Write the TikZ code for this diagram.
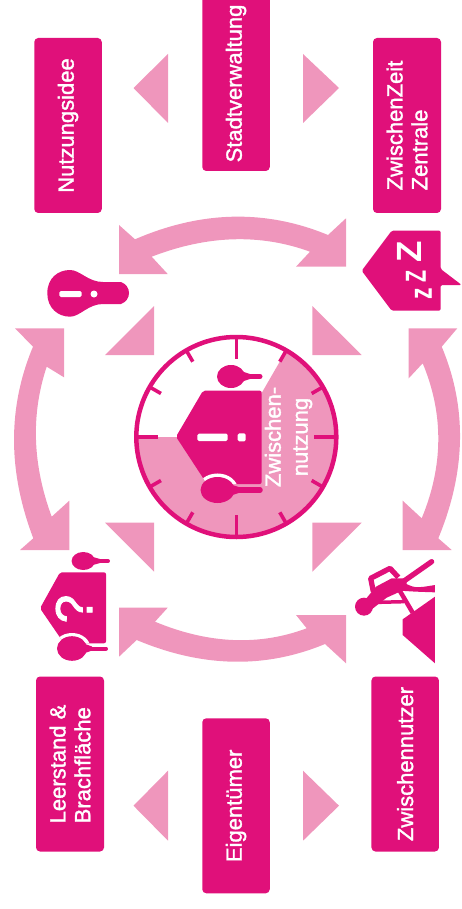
\documentclass[tikz,border=0pt]{standalone}
\usepackage{fontspec}
\setmainfont{Liberation Sans}
\newfontfamily\labfont[FakeBold=1.5]{Liberation Sans}
\definecolor{dark}{HTML}{E0107A}
\definecolor{lite}{HTML}{EF96BC}
\tikzset{
  boxn/.style={fill=dark,rounded corners=4pt,rotate=90,minimum width=175pt,minimum height=67.5pt,inner sep=0pt,text=white,align=left,font=\labfont\fontsize{22}{24.8}\selectfont},
  softfill/.style={fill=lite,draw=none},
  darkfill/.style={fill=dark,draw=none},
  whitefill/.style={fill=white,draw=none},
  iconletter/.style={text=white,rotate=90,inner sep=0pt}
}
\newcommand{\spoonhead}[6]{%
  \fill[darkfill] (#1,#2) ellipse [x radius=#3pt,y radius=#4pt];
  \fill[darkfill] ({#1},{#2-0.75*#4}) -- ({#1+#3+5},{#2-#6/2}) -- ({#1+#3+5},{#2+#6/2}) -- ({#1},{#2+0.75*#4}) -- cycle;
  \draw[dark,line width=#6pt,line cap=round] (#1,#2) -- (#5,#2);
}
\begin{document}
\begin{tikzpicture}[x=1pt,y=-1pt]
\useasboundingbox (0,0) rectangle (462,909);
% label boxes
\node[boxn] (idee) at (68,125.5) {Nutzungsidee};
\node[boxn] (stadt) at (236,83.5) {Stadtverwaltung};
\node[boxn,minimum height=68pt] (zentrale) at (407,125.5) {ZwischenZeit\\Zentrale};
\node[boxn,minimum height=68pt] (leer) at (70,764) {Leerstand \&\\Brachfläche};
\node[boxn] (eigen) at (236,805.8) {Eigentümer};
\node[boxn] (nutzer) at (405.2,764) {Zwischennutzer};
% outer triangles
\fill[softfill] (133.5,88) -- (168,54) -- (168,123) -- cycle;
\fill[softfill] (339,88) -- (303,54) -- (303,123) -- cycle;
\fill[softfill] (133.5,805.7) -- (168,770.7) -- (168,840.7) -- cycle;
\fill[softfill] (339,805.7) -- (303,770.7) -- (303,840.7) -- cycle;
% inner triangles
\fill[softfill] (154,306) -- (154,355) -- (105,355) -- cycle;
\fill[softfill] (312.3,306) -- (312.3,355) -- (361.7,355) -- cycle;
\fill[softfill] (105,522.7) -- (154,522.7) -- (154,571.7) -- cycle;
\fill[softfill] (361.7,522.7) -- (312.3,522.7) -- (312.3,571.7) -- cycle;
% curved double arrows
\fill[softfill] (119,225) -- (135,239.3) .. controls (201.3,210.6) and (265.7,209.2) .. (328,235) -- (346,218.3) -- (346,266.7) -- (296,266.7) -- (310,251.7) .. controls (260.1,233.5) and (207.3,235.2) .. (151.7,256.7) -- (167.7,274) -- (119,274) -- cycle;
\fill[softfill] (119,607.7) -- (167.7,607.7) -- (155,621.7) .. controls (208.4,643.9) and (259,646.1) .. (306.7,628.3) -- (296,615) -- (346,615) -- (346,663.3) -- (325,644) .. controls (265.1,668.9) and (202.3,667.6) .. (136.7,640) -- (119,656.7) -- cycle;
\fill[softfill] (15,328.3) -- (64,328.3) -- (64,377.3) -- (46.7,366.7) .. controls (30.8,414.4) and (32.4,464.4) .. (51.7,516.7) -- (69.3,500.7) -- (69.3,550) -- (20,550) -- (33.3,538.3) .. controls (7.7,471.1) and (7.6,407.2) .. (33,346.7) -- cycle;
\fill[softfill] (457.3,328.3) -- (408.7,328.3) -- (408.7,378.3) -- (422.7,363.3) .. controls (443.8,413.9) and (443.5,465.6) .. (421.7,518.3) -- (402.7,500.7) -- (402.7,550) -- (451.7,550) -- (438.3,538.3) .. controls (466.1,471.1) and (467.2,407.2) .. (441.7,346.7) -- cycle;
% clock
\begin{scope}
  \clip (236.3,437) circle [radius=100pt];
  \fill[softfill] (236.3,437) -- (100,437) -- (100,600) -- (400,600) -- (400,333) -- (296.3,333) -- cycle;
\end{scope}
\begin{scope}[shift={(236.3,437)}]
  \draw[dark,line width=4.5pt] (0,0) circle [radius=100pt];
  \foreach \a in {30,60,120,150,210,240,300,330} \draw[dark,line width=3.6pt] (\a:101) -- (\a:87);
  \foreach \a in {0,90,180,270} \draw[dark,line width=3.6pt] (\a:101) -- (\a:78);
\end{scope}
% clock person
\fill[darkfill,rounded corners=2pt] (176,436.7) -- (203,390.7) -- (261.7,390.7) -- (261.7,484) -- (207,484) -- cycle;
\begin{scope}
  \clip (176,436.7) -- (203,390.7) -- (261.7,390.7) -- (261.7,484) -- (207,484) -- cycle;
  \draw[white,line width=3pt,fill=white] (217.5,490) ellipse [x radius=19pt,y radius=15pt];
  \draw[white,line width=9pt] (217.5,489) -- (262,489);
\end{scope}
\spoonhead{217.5}{490}{17}{13}{260}{5.5}
\spoonhead{231}{376.5}{14}{11.5}{260}{5}
\fill[whitefill,rounded corners=1.5pt] (197.3,433.7) rectangle (227.7,441);
\fill[whitefill,rounded corners=1.5pt] (237.7,433.3) rectangle (245.7,441.3);
% bulb
\fill[darkfill] (47.3,293.3) .. controls (47.3,278) and (58,270) .. (70,270) .. controls (80,270) and (88,282) .. (103,282) -- (121,282) .. controls (126,284) and (129,288) .. (129,293) .. controls (129,298) and (126,302) .. (121,304) -- (103,304) .. controls (88,304) and (80,316.7) .. (70,316.7) .. controls (58,316.7) and (47.3,308) .. (47.3,293.3) -- cycle;
\fill[whitefill,rounded corners=1.5pt] (59.3,291) rectangle (81.7,297);
\fill[whitefill] (94,294) circle [radius=3.5pt];
% sleep icon
\fill[darkfill,rounded corners=1.5pt] (361.7,270.7) -- (391.7,230.7) -- (440.7,230.7) -- (440.7,269) -- (461.7,285) -- (440.7,285) -- (440.7,310.7) -- (391.7,310.7) -- cycle;
\node[iconletter,font=\fontsize{35}{35}\bfseries\selectfont] (zbig) at (409.3,251.7) {Z};
\node[iconletter,font=\fontsize{29}{29}\bfseries\selectfont] (zmid) at (416,276.7) {\scalebox{0.68}[1]{Z}};
\node[iconletter,font=\fontsize{32}{32}\bfseries\selectfont] (zsmall) at (423.3,294) {\scalebox{0.72}[1]{z}};
% question icon
\fill[darkfill,rounded corners=2pt] (40,608.3) -- (60,572.3) -- (106,572.3) -- (106,643.3) -- (64,643.3) -- cycle;
\begin{scope}
  \clip (40,608.3) -- (60,572.3) -- (106,572.3) -- (106,643.3) -- (64,643.3) -- cycle;
  \draw[white,line width=3pt,fill=white] (72,648.5) ellipse [x radius=17pt,y radius=14pt];
  \draw[white,line width=7pt] (72,649.3) -- (107,649.3);
\end{scope}
\spoonhead{72}{648.5}{15}{12.3}{106}{4}
\spoonhead{83.3}{561}{11.7}{9}{108}{4}
\node[iconletter,font=\labfont\fontsize{52}{52}\selectfont] (qmark) at (74,609) {?};
% walker icon
\begin{scope}[shift={(340,550)},x=0.3333pt,y=-0.3333pt]
  \fill[darkfill] (72,170) circle [radius=9pt];
  \fill[darkfill] (75,150) -- (108,110) -- (155,85) -- (200,85) -- (200,110) -- (180,125) -- (140,143) -- (80,190) -- cycle;
  \draw[dark,line width=5.3pt,line cap=round] (185,98) -- (275,35);
  \draw[dark,line width=5.3pt,line join=round] (100,125) -- (92,85) -- (150,55) -- (175,82);
  \fill[darkfill] (185,95) .. controls (225,115) .. (285,105) -- (285,127) .. controls (225,125) .. (180,122) -- cycle;
  \draw[dark,line width=4.5pt] (178,120) -- (218,188);
  \draw[dark,line width=3.5pt] (115,157) -- (192,155);
  \fill[darkfill] (285,140) -- (285,340) -- (188,255) -- (188,208) -- cycle;
\end{scope}
% clock text
\node[text=white,rotate=90,inner sep=0pt,align=center,font=\labfont\fontsize{22}{27}\selectfont] (clocktext) at (288.5,437) {Zwischen-\\nutzung};
\end{tikzpicture}
\end{document}
